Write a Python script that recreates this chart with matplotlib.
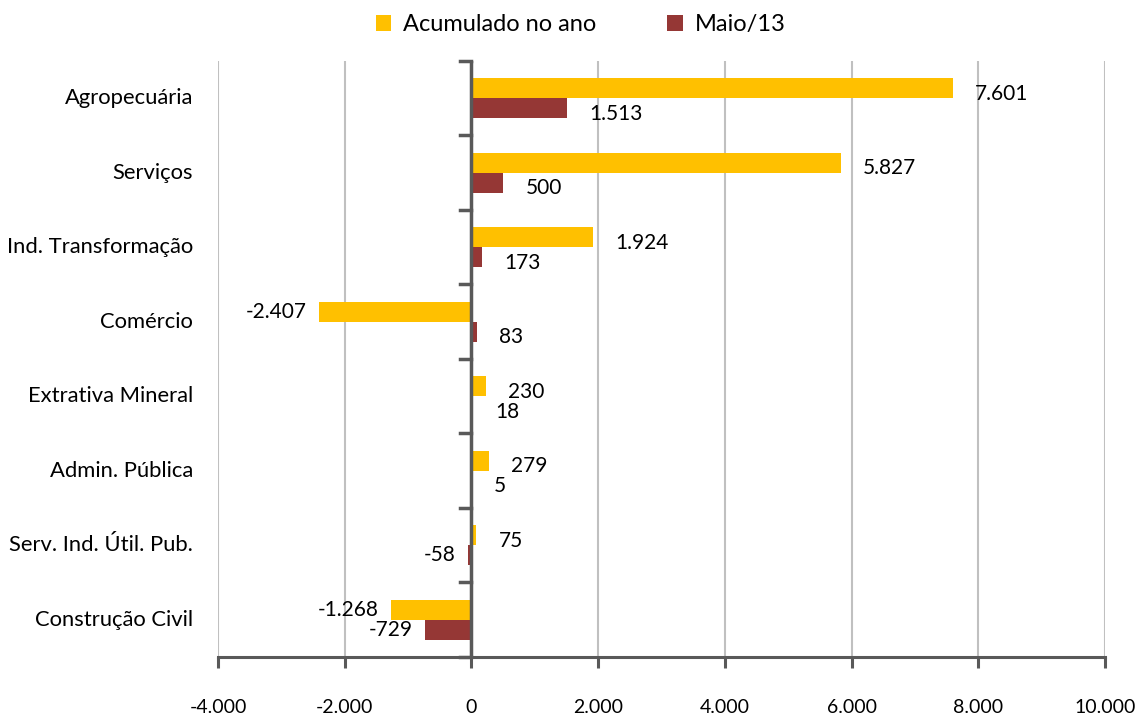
import matplotlib as mpl
mpl.rcParams['font.family'] = ['Lato', 'DejaVu Sans']
import numpy as np
import matplotlib.pyplot as plt

# %% data
setores = ['Agropecuária', 'Serviços', 'Ind. Transformação', 'Comércio',
           'Extrativa Mineral', 'Admin. Pública', 'Serv. Ind. Útil. Pub.',
           'Construção Civil']
acumulado = [7601, 5827, 1924, -2407, 230, 279, 75, -1268]
maio = [1513, 500, 173, 83, 18, 5, -58, -729]
xticks = [-4000, -2000, 0, 2000, 4000, 6000, 8000, 10000]


def br(v):
    # brazilian thousands separator
    return '{:,}'.format(int(v)).replace(',', '.')


# %% plot
fig = plt.figure(figsize=(11.43, 7.2), dpi=100)
ax = fig.add_axes([0.1907, 0.0875, 0.7761, 0.8278])

n = len(setores)
y = np.arange(n)[::-1]
h = 0.27
amarelo, vermelho = '#FFC000', '#953735'
b1 = ax.barh(y + h / 2, acumulado, height=h, color=amarelo, label='Acumulado no ano', zorder=3)
b2 = ax.barh(y - h / 2, maio, height=h, color=vermelho, label='Maio/13', zorder=3)

for yy, vals in ((y + h / 2, acumulado), (y - h / 2, maio)):
    for yi, v in zip(yy, vals):
        if v >= 0:
            ax.annotate(br(v), xy=(v, yi), xytext=(16, -4), textcoords='offset points',
                        ha='left', va='center', fontsize=15)
        else:
            ax.annotate(br(v), xy=(v, yi), xytext=(-9, 0), textcoords='offset points',
                        ha='right', va='center', fontsize=15)

ax.set_xlim(-4000, 10000)
ax.set_ylim(-0.5, n - 0.5)
ax.set_xticks(xticks)
ax.set_xticklabels([br(t) for t in xticks], fontsize=14)
ax.tick_params(axis='x', direction='out', length=8, width=2.2, color='#595959', pad=22)
ax.set_yticks([])
for yl, s in zip(y, setores):
    ax.annotate(s, xy=(-4000, yl), xytext=(-18, 0), textcoords='offset points',
                ha='right', va='center', fontsize=15.8)

ax.grid(axis='x', color='#C0C0C0', lw=1.5, zorder=0)
for s in ['top', 'right', 'left']:
    ax.spines[s].set_visible(False)
ax.spines['bottom'].set_color('#595959')
ax.spines['bottom'].set_linewidth(2.2)

# vertical axis at zero with ticks between categories
ax.axvline(0, color='#595959', lw=2.5, zorder=4)
for b in np.arange(n + 1) - 0.5:
    ax.plot([-180, 0], [b, b], color='#595959', lw=2.5, zorder=4, clip_on=False)

fig.legend(handles=[b1, b2], loc='upper center', bbox_to_anchor=(0.508, 1.01), ncol=2,
           frameon=False, fontsize=17, handlelength=0.65, handleheight=0.65,
           columnspacing=3.0, handletextpad=0.5)

fig.savefig('out.png', dpi=100)
